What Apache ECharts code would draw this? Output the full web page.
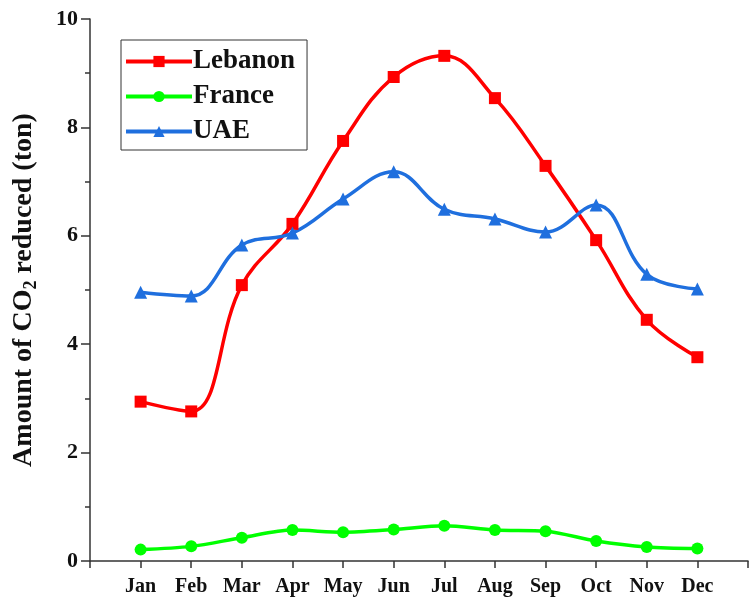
<!DOCTYPE html>
<html>
<head>
<meta charset="utf-8">
<script src="https://cdn.jsdelivr.net/npm/echarts@6/dist/echarts.min.js"></script>
<style>
  html, body { margin: 0; padding: 0; background: #fff; }
  #chart { width: 751px; height: 600px; }
</style>
</head>
<body>
<div id="chart"></div>
<script>
// Monthly CO2 reduction by country
const months = ['Jan', 'Feb', 'Mar', 'Apr', 'May', 'Jun', 'Jul', 'Aug', 'Sep', 'Oct', 'Nov', 'Dec'];
const lebanon = [2.94, 2.76, 5.09, 6.22, 7.75, 8.93, 9.32, 8.54, 7.29, 5.92, 4.45, 3.76];
const france  = [0.21, 0.27, 0.43, 0.57, 0.53, 0.58, 0.65, 0.57, 0.55, 0.37, 0.26, 0.23];
const uae     = [4.96, 4.89, 5.83, 6.05, 6.68, 7.18, 6.49, 6.31, 6.07, 6.57, 5.29, 5.02];
const yTicks  = [0, 2, 4, 6, 8, 10];

const FONT = '"Liberation Serif", "Times New Roman", serif';

// months sit at x = 1..12 on a numeric axis that starts at 0
const toPoints = vals => vals.map((v, i) => [i + 1, v]);

const chart = echarts.init(document.getElementById('chart'), null, { renderer: 'canvas' });

const lineSeries = (name, vals, color, symbol, smooth) => ({
  name,
  type: 'line',
  data: toPoints(vals),
  smooth,
  symbol,
  symbolSize: symbol === 'triangle' ? 13 : 12,
  showSymbol: true,
  lineStyle: { color, width: 3.5 },
  itemStyle: { color },
  z: 3
});

chart.setOption({
  animation: false,
  backgroundColor: '#ffffff',
  grid: { left: 90, top: 19, width: 672, height: 542, containLabel: false },
  legend: {
    orient: 'vertical',
    left: 121,
    top: 40,
    padding: [8, 12, 5, 3],
    itemGap: 8,
    itemWidth: 66,
    itemHeight: 14,
    borderColor: '#333',
    borderWidth: 1,
    backgroundColor: '#fff',
    lineStyle: { width: 4 },
    textStyle: { fontFamily: FONT, fontWeight: 'bold', fontSize: 27, color: '#111', padding: [0, 0, 0, -4] },
    data: ['Lebanon', 'France', 'UAE']
  },
  xAxis: {
    type: 'value',
    min: 0,
    max: 13,
    interval: 1,
    splitLine: { show: false },
    axisLine: { lineStyle: { color: '#333', width: 1.5 } },
    axisTick: { inside: false, length: 7, lineStyle: { color: '#333', width: 1.5 } },
    axisLabel: {
      margin: 16,
      fontFamily: FONT,
      fontWeight: 'bold',
      fontSize: 20,
      color: '#111',
      formatter: v => (v >= 1 && v <= 12 ? months[v - 1] : '')
    }
  },
  yAxis: {
    type: 'value',
    min: yTicks[0],
    max: yTicks[yTicks.length - 1],
    interval: 2,
    splitLine: { show: false },
    axisLine: { show: true, lineStyle: { color: '#333', width: 1.5 } },
    axisTick: { show: true, inside: false, length: 9, lineStyle: { color: '#333', width: 1.5 } },
    minorTick: { show: true, splitNumber: 2, length: 5, lineStyle: { color: '#333', width: 1.5 } },
    axisLabel: {
      margin: 12,
      fontFamily: FONT,
      fontWeight: 'bold',
      fontSize: 22,
      color: '#111'
    },
    name: '{a|Amount of CO}{s|2}{a| reduced (ton)}',
    nameLocation: 'middle',
    nameGap: 50,
    nameTextStyle: {
      rich: {
        a: { fontFamily: FONT, fontWeight: 'bold', fontSize: 28, color: '#111' },
        s: { fontFamily: FONT, fontWeight: 'bold', fontSize: 18, color: '#111', padding: [14, 0, 0, 0] }
      }
    }
  },
  series: [
    lineSeries('Lebanon', lebanon, '#ff0000', 'rect', 0.4),
    lineSeries('France', france, '#00ff00', 'circle', 0.3),
    lineSeries('UAE', uae, '#1f6fde', 'triangle', 0.4)
  ]
});
</script>
</body>
</html>
